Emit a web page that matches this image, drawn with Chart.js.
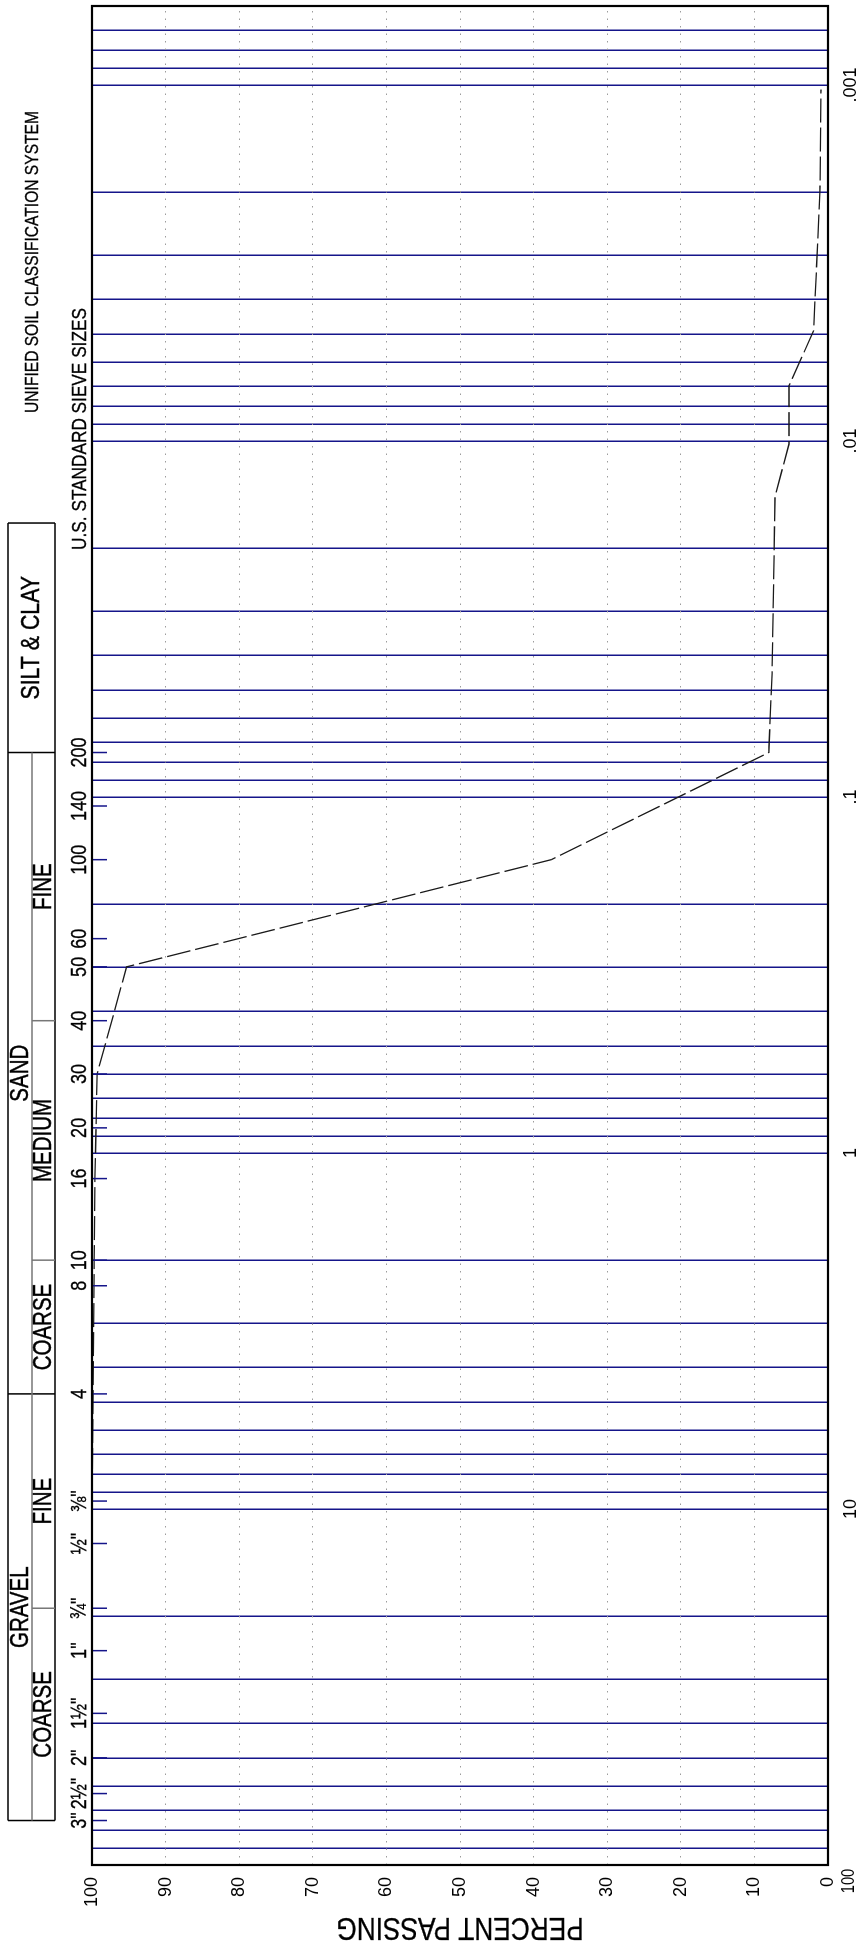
<!DOCTYPE html>
<html><head><meta charset="utf-8">
<script src="https://cdn.jsdelivr.net/npm/chart.js@4.4.1/dist/chart.umd.min.js"></script>
<style>
html,body{margin:0;padding:0;background:#fff;overflow:hidden;width:863px;height:1946px;}
#wrap{position:absolute;left:0;top:0;width:1946px;height:863px;transform-origin:0 0;transform:translate(0,1946px) rotate(-90deg);}
canvas{display:block;}
</style></head><body>
<div id="wrap"><canvas id="c" width="1946" height="863"></canvas></div>
<script>
// ---------- data ----------
const grainSizeMm   = [9.5, 4.75, 2.0, 1.18, 0.85, 0.6, 0.3, 0.15, 0.075, 0.045, 0.0143, 0.0102, 0.0070, 0.0049, 0.0020, 0.00103];
const percentPassing = [100, 99.85, 99.7, 99.6, 99.45, 99.3, 95.3, 37.6, 8.05, 7.6, 7.2, 5.3, 5.3, 1.95, 1.1, 0.95];

const decadeTicks  = [100, 10, 1, 0.1, 0.01, 0.001];
const decadeLabels = ['100', '10', '1', '.1', '.01', '.001'];
const percentTicks = [0, 10, 20, 30, 40, 50, 60, 70, 80, 90, 100];
const gridSizes = [0.0006, 0.0007, 0.0008, 0.0009,
  0.001, 0.002, 0.003, 0.004, 0.005, 0.006, 0.007, 0.008, 0.009,
  0.01, 0.02, 0.03, 0.04, 0.05, 0.06, 0.07, 0.08, 0.09,
  0.1, 0.2, 0.3, 0.4, 0.5, 0.6, 0.7, 0.8, 0.9,
  1, 2, 3, 4, 5, 6, 7, 8, 9,
  10, 20, 30, 40, 50, 60, 70, 80, 90, 100];

const sieveSizes  = [75, 63, 50, 37.5, 25, 19, 12.5, 9.5, 4.75, 2.36, 2.0, 1.18, 0.85, 0.6, 0.425, 0.3, 0.25, 0.15, 0.106, 0.075];
const sieveLabels = ['3"', '2½"', '2"', '1½"', '1"', '¾"', '½"', '⅜"', '4', '8', '10', '16', '20', '30', '40', '50', '60', '100', '140', '200'];

const mainClasses = ['GRAVEL', 'SAND', 'SILT & CLAY'];
const mainBounds  = [75, 4.75, 0.075, 0.017];
const subClasses  = ['COARSE', 'FINE', 'COARSE', 'MEDIUM', 'FINE'];
const subBounds   = [75, 19, 4.75, 2.0, 0.425, 0.075];

// ---------- fonts ----------
function hasFont(name){
  const c = document.createElement('canvas').getContext('2d');
  const s = 'abcdefghijklmnopqrstuvwxyz ABCDEFGHIJ 0123456789';
  c.font = '40px monospace'; const a = c.measureText(s).width;
  c.font = '40px "' + name + '", monospace'; const b = c.measureText(s).width;
  return Math.abs(a - b) > 0.5;
}
const NARROW = hasFont('Liberation Sans Narrow');
const FAMILY = NARROW ? '"Liberation Sans Narrow", "Liberation Sans", Arial, sans-serif' : '"Liberation Sans", Arial, sans-serif';
const SQ = NARROW ? 1 : 0.82;

function txt(ctx, s, x, y, size, rot, align, base, heavy){
  ctx.save();
  ctx.translate(x, y);
  if (rot) ctx.rotate(rot);
  ctx.scale(SQ, 1);
  ctx.font = size + 'px ' + FAMILY;
  ctx.fillStyle = '#000';
  ctx.textAlign = align || 'center';
  ctx.textBaseline = base || 'middle';
  ctx.fillText(s, 0, 0);
  if (heavy) { ctx.strokeStyle = '#000'; ctx.lineWidth = heavy; ctx.strokeText(s, 0, 0); }
  ctx.restore();
}
function decadeLabel(v){
  const i = decadeTicks.findIndex(d => Math.abs(Math.log10(d / v)) < 1e-6);
  return i >= 0 ? decadeLabels[i] : '';
}

const NAVY = '#15158a';
const TICK_FONT = Math.round(21 * (NARROW ? 1 : 0.85));

const deco = {
  id: 'deco',
  afterDatasetsDraw(chart){
    const {ctx, chartArea: a, scales: {x}} = chart;
    ctx.save();
    ctx.strokeStyle = NAVY; ctx.lineWidth = 1.5;
    sieveSizes.forEach(s => {
      const p = x.getPixelForValue(s);
      ctx.beginPath(); ctx.moveTo(p, a.top); ctx.lineTo(p, a.top + 15); ctx.stroke();
    });
    ctx.strokeStyle = '#000'; ctx.lineWidth = 2.2;
    ctx.strokeRect(a.left, a.top, a.right - a.left, a.bottom - a.top);
    ctx.restore();
  },
  afterDraw(chart){
    const {ctx, chartArea: a, scales: {x}} = chart;
    sieveSizes.forEach((s, i) => txt(ctx, sieveLabels[i], x.getPixelForValue(s), 80, 22, 0, 'center', 'middle', 0.3));
    const yT = 8, yM = 32, yB = 55;
    const px = v => x.getPixelForValue(v);
    ctx.save();
    ctx.lineWidth = 1.5;
    ctx.strokeStyle = '#000';
    ctx.beginPath();
    ctx.moveTo(px(mainBounds[0]), yT); ctx.lineTo(px(mainBounds[3]), yT);
    ctx.moveTo(px(mainBounds[0]), yB); ctx.lineTo(px(mainBounds[3]), yB);
    mainBounds.forEach(b => { ctx.moveTo(px(b), yT); ctx.lineTo(px(b), yB); });
    ctx.stroke();
    ctx.strokeStyle = '#777';
    ctx.beginPath();
    ctx.moveTo(px(subBounds[0]), yM); ctx.lineTo(px(subBounds[5]), yM);
    [19, 2.0, 0.425].forEach(b => { ctx.moveTo(px(b), yM); ctx.lineTo(px(b), yB); });
    ctx.stroke();
    ctx.restore();
    const mid = (a1, b1) => Math.sqrt(a1 * b1);
    const H = 0.45;
    txt(ctx, mainClasses[0], px(mid(mainBounds[0], mainBounds[1])), 21, 25, 0, 'center', 'middle', H);
    txt(ctx, mainClasses[1], px(mid(mainBounds[1], mainBounds[2])), 21, 25, 0, 'center', 'middle', H);
    txt(ctx, mainClasses[2], px(mid(mainBounds[2], mainBounds[3])), 32, 26, 0, 'center', 'middle', H);
    subClasses.forEach((c, i) => txt(ctx, c, px(mid(subBounds[i], subBounds[i + 1])), 44.5, 25, 0, 'center', 'middle', H));
    txt(ctx, 'U.S. STANDARD SIEVE SIZES', 1517, 80, 21, 0, 'center', 'middle', 0.3);
    txt(ctx, 'UNIFIED SOIL CLASSIFICATION SYSTEM', 1684, 33, 19, 0, 'center', 'middle', 0.3);
    txt(ctx, 'PERCENT PASSING', 19, (a.top + a.bottom) / 2, 32, -Math.PI / 2, 'center', 'middle', 0.3);
    // first decade label sits just outside the frame corner
    txt(ctx, decadeLabels[0], x.getPixelForValue(decadeTicks[0]) - 16, a.bottom + 12, TICK_FONT, 0, 'center', 'top');
  }
};

new Chart(document.getElementById('c'), {
  type: 'line',
  data: {
    datasets: [{
      data: grainSizeMm.map((s, i) => ({x: s, y: percentPassing[i]})),
      borderColor: '#1a1a1a',
      borderWidth: 1.3,
      borderDash: [24, 5],
      pointRadius: 0,
      tension: 0,
      fill: false
    }]
  },
  options: {
    responsive: false,
    animation: false,
    devicePixelRatio: 1,
    layout: {padding: {top: 92, right: 6, left: 0, bottom: 0}},
    plugins: {legend: {display: false}, tooltip: {enabled: false}},
    scales: {
      x: {
        type: 'logarithmic',
        reverse: true,
        min: 0.0006,
        max: 100,
        afterBuildTicks: sc => { sc.ticks = gridSizes.map(v => ({value: v})); },
        afterFit: sc => { sc.height = 35; },
        grid: {color: NAVY, lineWidth: 1.5, drawTicks: false},
        border: {display: false},
        ticks: {
          autoSkip: false, maxRotation: 0, padding: 12,
          color: '#000',
          font: {family: FAMILY, size: TICK_FONT},
          callback: v => (Math.abs(v - decadeTicks[0]) < 1e-9 ? '' : decadeLabel(v))
        }
      },
      y: {
        min: 0, max: 100,
        afterBuildTicks: sc => { sc.ticks = percentTicks.map(v => ({value: v})); },
        afterFit: sc => { sc.width = 81; },
        grid: {color: '#9c9c9c', lineWidth: 1, drawTicks: false},
        border: {display: false, dash: [1.5, 6]},
        ticks: {
          padding: 12, color: '#000',
          font: {family: FAMILY, size: TICK_FONT},
          callback: v => String(v)
        }
      }
    }
  },
  plugins: [deco]
});
</script>
</body></html>
